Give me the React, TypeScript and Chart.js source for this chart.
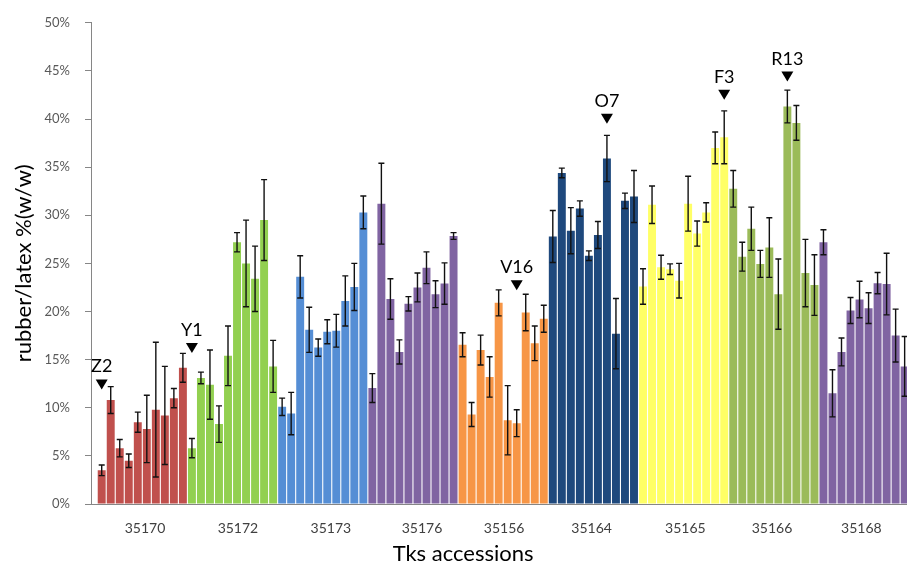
import { useEffect, useRef } from "react";
import { Chart, registerables } from "chart.js";

Chart.register(...registerables);

// Accessions (groups), their label positions (bar index units) and bar colours
const groups = ["35170", "35172", "35173", "35176", "35156", "35164", "35165", "35166", "35168"];
const tickPositions = [4.8, 15.1, 25.4, 35.5, 44.6, 54.3, 64.7, 74.3, 84.2];
const groupColors = ["#C0504D", "#92D050", "#558ED5", "#8064A2", "#F79646", "#1F497D", "#FFFF66", "#9BBB59", "#8064A2"];

// rubber/latex % (w/w) per plant, with error bar half-widths
const v35170 = [3.5, 10.8, 5.8, 4.5, 8.5, 7.8, 9.8, 9.2, 11.0, 14.15];
const e35170 = [0.55, 1.4, 0.9, 0.7, 1.05, 3.5, 7.0, 5.1, 1.0, 1.5];
const v35172 = [5.8, 13.1, 12.4, 8.3, 15.4, 27.2, 25.0, 23.4, 29.5, 14.3];
const e35172 = [1.0, 0.6, 3.6, 1.9, 3.1, 1.0, 4.5, 3.4, 4.2, 2.7];
const v35173 = [10.1, 9.4, 23.6, 18.1, 16.25, 17.9, 18.0, 21.1, 22.55, 30.3];
const e35173 = [0.9, 2.2, 2.2, 2.35, 0.9, 1.25, 1.7, 2.6, 2.45, 1.7];
const v35176 = [12.05, 31.2, 21.3, 15.8, 20.8, 22.5, 24.55, 21.8, 22.9, 27.85];
const e35176 = [1.5, 4.2, 2.1, 1.25, 0.75, 1.5, 1.65, 1.4, 2.15, 0.35];
const v35156 = [16.55, 9.3, 16.0, 13.2, 20.9, 8.7, 8.4, 19.9, 16.7, 19.25];
const e35156 = [1.25, 1.25, 1.55, 2.1, 1.35, 3.6, 1.4, 1.9, 1.8, 1.4];
const v35164 = [27.8, 34.4, 28.4, 30.7, 25.8, 27.95, 35.9, 17.7, 31.5, 31.95];
const e35164 = [2.7, 0.5, 2.4, 0.8, 0.5, 1.4, 2.4, 3.65, 0.8, 2.7];
const v35165 = [22.6, 31.1, 24.6, 24.4, 23.2, 31.2, 28.1, 30.3, 37.0, 38.1];
const e35165 = [1.85, 1.95, 1.25, 0.55, 1.8, 2.85, 1.3, 1.0, 1.65, 2.75];
const v35166 = [32.75, 25.7, 28.6, 24.95, 26.65, 21.8, 41.3, 39.6, 24.0, 22.75];
const e35166 = [1.9, 1.5, 2.25, 1.4, 3.1, 3.65, 1.7, 1.8, 3.5, 3.15];
const v35168 = [27.2, 11.5, 15.8, 20.1, 21.25, 20.35, 22.95, 22.85, 17.5, 14.3];
const e35168 = [1.3, 2.45, 1.45, 1.35, 1.9, 1.6, 1.1, 3.2, 2.75, 3.1];

// Highlighted plants: label, bar index, position of triangle tip (%)
const markerLabels = ["Z2", "Y1", "V16", "O7", "F3", "R13"];
const markerIndex = [0, 10, 46, 56, 69, 76];
const markerTip = [11.9, 15.7, 22.2, 39.5, 42.0, 43.9];

const xTitle = "Tks accessions";
const yTitle = "rubber/latex %(w/w)";

const groupValues = [v35170, v35172, v35173, v35176, v35156, v35164, v35165, v35166, v35168];
const groupErrors = [e35170, e35172, e35173, e35176, e35156, e35164, e35165, e35166, e35168];

const values: number[] = [];
const errors: number[] = [];
const colors: string[] = [];
groupValues.forEach((arr, g) => {
  arr.forEach((v, i) => {
    values.push(v);
    errors.push(groupErrors[g][i]);
    colors.push(groupColors[g]);
  });
});
const points = values.map((v, i) => ({ x: i, y: v }));

const FONT = "Lato, 'Open Sans', sans-serif";

const errorBarPlugin = {
  id: "errorBars",
  afterDatasetsDraw(chart: any) {
    const meta = chart.getDatasetMeta(0);
    const ys = chart.scales.y;
    const ctx = chart.ctx;
    ctx.save();
    ctx.strokeStyle = "#111";
    ctx.lineWidth = 1.4;
    meta.data.forEach((el: any, i: number) => {
      const x = el.x;
      const yt = ys.getPixelForValue(values[i] + errors[i]);
      const yb = ys.getPixelForValue(values[i] - errors[i]);
      ctx.beginPath();
      ctx.moveTo(x, yt);
      ctx.lineTo(x, yb);
      ctx.moveTo(x - 3, yt);
      ctx.lineTo(x + 3, yt);
      ctx.moveTo(x - 3, yb);
      ctx.lineTo(x + 3, yb);
      ctx.stroke();
    });
    ctx.restore();
  },
};

const markerPlugin = {
  id: "markers",
  afterDatasetsDraw(chart: any) {
    const xs = chart.scales.x;
    const ys = chart.scales.y;
    const ctx = chart.ctx;
    ctx.save();
    ctx.fillStyle = "#000";
    ctx.font = `18px ${FONT}`;
    ctx.textAlign = "center";
    ctx.textBaseline = "alphabetic";
    markerLabels.forEach((lab, k) => {
      const x = xs.getPixelForValue(markerIndex[k]);
      const tip = ys.getPixelForValue(markerTip[k]);
      const top = tip - 10;
      ctx.beginPath();
      ctx.moveTo(x, tip);
      ctx.lineTo(x - 6, top);
      ctx.lineTo(x + 6, top);
      ctx.closePath();
      ctx.fill();
      ctx.fillText(lab, x, top - 7);
    });
    ctx.restore();
  },
};

const xTitlePlugin = {
  id: "xTitle",
  afterDraw(chart: any) {
    const { chartArea, ctx, height } = chart;
    ctx.save();
    ctx.fillStyle = "#000";
    ctx.font = `22px ${FONT}`;
    ctx.textAlign = "center";
    ctx.textBaseline = "alphabetic";
    const x = chartArea.left + (chartArea.right - chartArea.left) * 0.456;
    ctx.fillText(xTitle, x, height - 6);
    ctx.restore();
  },
};

export default function App() {
  const ref = useRef<HTMLCanvasElement | null>(null);
  useEffect(() => {
    if (!ref.current) return;
    const chart = new Chart(ref.current, {
      type: "bar",
      data: {
        datasets: [
          {
            data: points as any,
            backgroundColor: colors,
            borderWidth: 0,
            categoryPercentage: 1,
            barPercentage: 0.88,
          },
        ],
      },
      options: {
        animation: false,
        responsive: false,
        layout: { padding: { top: 20, right: 0, left: 0, bottom: 0 } },
        plugins: { legend: { display: false }, tooltip: { enabled: false } },
        scales: {
          x: {
            type: "linear",
            offset: false,
            min: -1.186,
            max: 89.26,
            grid: { display: false },
            border: { display: true, color: "#868686", width: 1 },
            afterBuildTicks: (scale: any) => {
              scale.ticks = tickPositions.map((c) => ({ value: c }));
            },
            afterFit: (scale: any) => {
              scale.height = 63;
            },
            ticks: {
              autoSkip: false,
              maxRotation: 0,
              padding: 8,
              color: "#404040",
              font: { family: FONT, size: 14 },
              callback: (_v: any, i: number) => groups[i],
            },
          },
          y: {
            min: 0,
            max: 50,
            grid: { drawOnChartArea: false, drawTicks: true, tickLength: 6, color: "#868686" },
            border: { display: true, color: "#868686", width: 1 },
            afterFit: (scale: any) => {
              scale.width = 91;
            },
            ticks: {
              stepSize: 5,
              padding: 15,
              color: "#595959",
              font: { family: FONT, size: 13 },
              callback: (v: any) => `${v}%`,
            },
            title: {
              display: true,
              text: yTitle,
              color: "#000",
              font: { family: FONT, size: 22 },
              padding: { top: 11, bottom: 4 },
            },
          },
        },
      } as any,
      plugins: [errorBarPlugin, markerPlugin, xTitlePlugin],
    });
    return () => chart.destroy();
  }, []);
  return (
    <div style={{ position: "fixed", left: 0, top: 0, width: 907, height: 567, background: "#fff" }}>
      <canvas ref={ref} width={907} height={567} />
    </div>
  );
}
